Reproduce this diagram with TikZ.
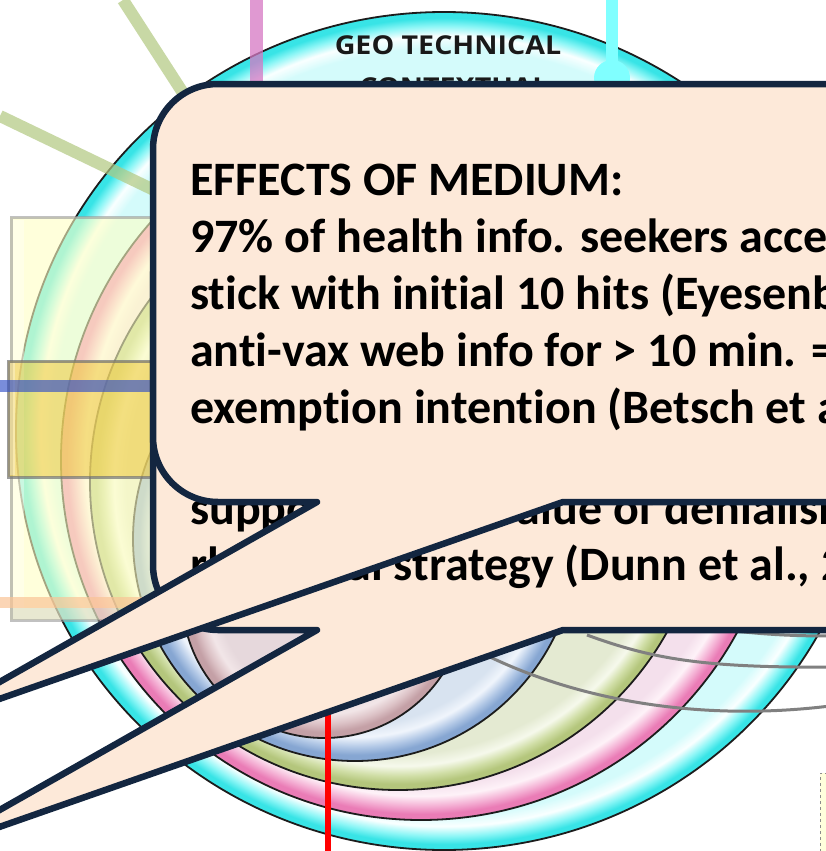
\documentclass[tikz,border=0pt]{standalone}
\usepackage{fontspec}
\setmainfont{Carlito}[Ligatures={NoCommon,NoRare}]
\newfontfamily\ringfont{Open Sans}

% palette
\definecolor{navy}{RGB}{19,38,64}
\definecolor{peach}{RGB}{253,233,217}
\definecolor{ringline}{RGB}{28,28,28}
\definecolor{cyanEdge}{RGB}{56,228,230}
\definecolor{cyanMid}{RGB}{140,246,246}
\definecolor{cyanHi}{RGB}{250,255,255}
\definecolor{cyanIn}{RGB}{212,251,251}
\definecolor{pinkEdge}{RGB}{234,124,182}
\definecolor{pinkMid}{RGB}{244,176,212}
\definecolor{pinkHi}{RGB}{254,242,248}
\definecolor{pinkIn}{RGB}{244,224,236}
\definecolor{greenEdge}{RGB}{180,198,124}
\definecolor{greenMid}{RGB}{208,222,166}
\definecolor{greenHi}{RGB}{246,249,236}
\definecolor{greenIn}{RGB}{228,234,210}
\definecolor{blueEdge}{RGB}{134,166,210}
\definecolor{blueMid}{RGB}{178,200,230}
\definecolor{blueHi}{RGB}{240,245,252}
\definecolor{blueIn}{RGB}{216,227,240}
\definecolor{coreEdge}{RGB}{196,160,166}
\definecolor{coreMid}{RGB}{220,194,198}
\definecolor{coreHi}{RGB}{242,230,232}
\definecolor{coreIn}{RGB}{230,216,220}
\definecolor{paleyellow}{RGB}{255,255,196}
\definecolor{goldbox}{RGB}{238,200,60}
\definecolor{olive}{RGB}{178,200,128}
\definecolor{orchid}{RGB}{214,120,196}
\definecolor{aqua}{RGB}{128,255,255}
\definecolor{royal}{RGB}{50,80,200}
\definecolor{apricot}{RGB}{250,196,150}

% glossy ring shadings (25bp = rim of each disc)
\pgfdeclareradialshading{ringcyan}{\pgfpointorigin}{color(0bp)=(cyanIn); color(22.87bp)=(cyanIn); color(23.58bp)=(cyanHi); color(24.17bp)=(cyanMid); color(24.65bp)=(cyanEdge); color(25bp)=(cyanEdge); color(50bp)=(cyanEdge)}
\pgfdeclareradialshading{ringpink}{\pgfpointorigin}{color(0bp)=(pinkIn); color(22.5bp)=(pinkIn); color(23.33bp)=(pinkHi); color(24.03bp)=(pinkMid); color(24.58bp)=(pinkEdge); color(25bp)=(pinkEdge); color(50bp)=(pinkEdge)}
\pgfdeclareradialshading{ringgreen}{\pgfpointorigin}{color(0bp)=(greenIn); color(22.08bp)=(greenIn); color(23.05bp)=(greenHi); color(23.86bp)=(greenMid); color(24.51bp)=(greenEdge); color(25bp)=(greenEdge); color(50bp)=(greenEdge)}
\pgfdeclareradialshading{ringblue}{\pgfpointorigin}{color(0bp)=(blueIn); color(20.95bp)=(blueIn); color(22.3bp)=(blueHi); color(23.42bp)=(blueMid); color(24.32bp)=(blueEdge); color(25bp)=(blueEdge); color(50bp)=(blueEdge)}
\pgfdeclareradialshading{ringcore}{\pgfpointorigin}{color(0bp)=(coreIn); color(18.66bp)=(coreIn); color(20.77bp)=(coreHi); color(22.54bp)=(coreMid); color(23.94bp)=(coreEdge); color(25bp)=(coreEdge); color(50bp)=(coreEdge)}

\tikzset{
  rim/.style={draw=ringline, line width=1.8pt},
  meridian/.style={draw=black!50, line width=3pt},
  guide/.style={line width=12pt, line cap=butt},
  calloutbox/.style={fill=peach, draw=navy, line width=6.5pt, line join=round},
  calloutshape/.pic={
    \path[calloutbox] (218,84) -- (900,84) -- (900,502) -- (563,502)
      -- (-78,726) -- (317,502) -- (218,502)
      arc[start angle=270, end angle=180, radius=65pt] -- (153,149)
      arc[start angle=180, end angle=90, radius=65pt] -- cycle;
  },
  bodytext/.style={font=\fontsize{48}{57}\selectfont\bfseries, inner sep=0pt,
    anchor=base west, text=black},
  ringlabel/.style={font=\ringfont\bfseries\fontsize{26}{30}\selectfont,
    inner sep=0pt, anchor=base, text=black!90}
}

\begin{document}
\begin{tikzpicture}[x=1pt,y=-1pt]
\useasboundingbox (0,0) rectangle (826,851);
\clip (0,0) rectangle (826,851);
\fill[white] (0,0) rectangle (826,851);

% nested rings
\shadedraw[shading=ringcyan, rim] (444,431) ellipse [x radius=428pt, y radius=419pt];
\shadedraw[shading=ringpink, rim] (421,460) circle [radius=360pt];
\shadedraw[shading=ringgreen, rim] (398,482) circle [radius=308pt];
\shadedraw[shading=ringblue, rim] (355,539) circle [radius=222pt];
\shadedraw[shading=ringcore, rim] (324,596) circle [radius=142pt];

\node[ringlabel] (geo) at (448,55) {\scalebox{1.1}[1]{GEO TECHNICAL}};
\node[ringlabel] (ctx) at (454,96) {\scalebox{1.1}[1]{CONTEXTUAL}};

% grey arcs over the rings
\draw[meridian] (735,631) .. controls (770,635) and (800,636) .. (830,636);
\draw[meridian] (587,635) .. controls (650,658) and (700,668) .. (830,667);
\draw[meridian] (490,657) .. controls (580,700) and (700,722) .. (830,706);

% boxes on the left
\fill[paleyellow, fill opacity=0.6] (10,217) rectangle (400,620);
\fill[white, opacity=0.35] (13,220) rectangle (24,608);
\fill[black!25, opacity=0.35] (13,608) rectangle (400,619);
\draw[black!40, line width=3pt, opacity=0.6] (400,217) -- (11,217) -- (11,620) -- (400,620);
\fill[goldbox, fill opacity=0.55] (8,361) rectangle (400,477);
\fill[white, opacity=0.3] (10,363) rectangle (15,475);
\draw[black!55, line width=3pt, opacity=0.7] (400,361) -- (8,361) -- (8,477) -- (400,477);
\fill[paleyellow!60] (820,773) rectangle (900,900);
\draw[black!45, dashed, line width=0.8pt] (900,773) -- (820,773) -- (820,900);

% guide lines
\draw[guide, olive, opacity=0.7] (123,0) -- (287,254);
\draw[guide, olive, opacity=0.7] (0,116) -- (287,254);
\draw[guide, orchid, opacity=0.75, line width=13pt] (256,0) -- (256,300);
\draw[guide, aqua] (612,0) -- (612,78);
\fill[aqua] (612,78) circle [radius=18pt];
\draw[guide, royal, opacity=0.65] (0,386) -- (300,386);
\draw[guide, apricot, opacity=0.7, line width=11pt] (0,602) -- (300,602);
\draw[red, line width=6pt] (328,600) -- (328,860);

% rear callout
\pic at (0,128) {calloutshape};
\node[bodytext] (b1) at (190,524) {supporting the value of denialism};
\node[bodytext] (b2) at (190,580) {rhetorical strategy (Dunn et al., 2};

% front callout
\pic at (0,0) {calloutshape};
\node[bodytext] (a1) at (190,195) {EFFECTS OF MEDIUM:};
\node[bodytext] (a2) at (190,252) {97\% of health info. seekers acce};
\node[bodytext] (a3) at (190,309) {stick with initial 10 hits (Eyesenb};
\node[bodytext] (a4) at (190,366) {anti-vax web info for > 10 min. =};
\node[bodytext] (a5) at (190,423) {exemption intention (Betsch et a};
\end{tikzpicture}
\end{document}
